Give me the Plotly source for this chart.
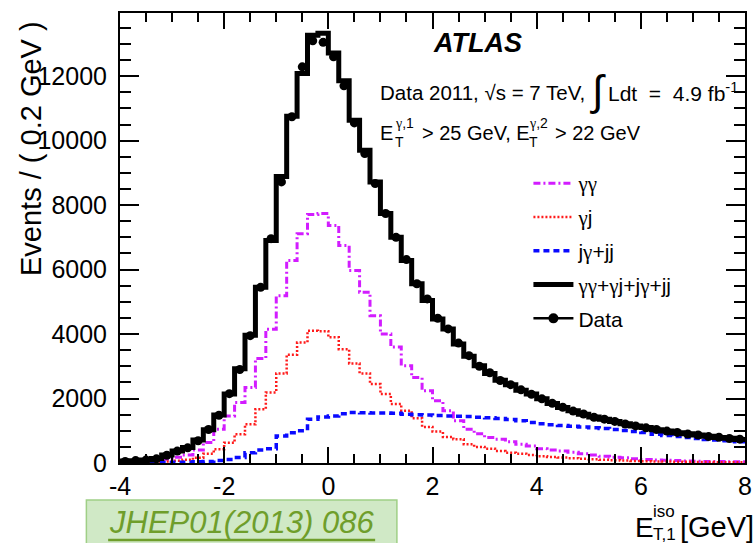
import numpy as np
import plotly.graph_objects as go

# ---------------- data (Events / 0.2 GeV), 60 bins from -4 to 8 GeV ----------------
bin_low = -4.0
bin_width = 0.2

data_counts = [50, 75, 90, 130, 240, 370, 470, 690, 1040, 1480,
               2150, 2900, 3950, 5450, 6960, 8720, 10740, 12290, 13100, 13050,
               12600, 11700, 10550, 9600, 8670, 7740, 7000, 6310, 5560, 5090,
               4490, 4160, 3720, 3330, 3000, 2800, 2560, 2430, 2270, 2130,
               1990, 1850, 1730, 1610, 1520, 1420, 1360, 1290, 1210, 1150,
               1090, 1040, 990, 950, 900, 870, 820, 800, 760, 740]

total_fit = [60, 70, 95, 140, 250, 375, 480, 710, 1030, 1490,
             2140, 2920, 3960, 5450, 6900, 8890, 10760, 12080, 13270, 13330,
             12720, 11860, 10630, 9700, 8720, 7740, 7000, 6280, 5560, 5040,
             4470, 4160, 3690, 3310, 3020, 2780, 2570, 2430, 2260, 2140,
             1990, 1845, 1720, 1620, 1510, 1430, 1360, 1285, 1220, 1150,
             1100, 1035, 995, 940, 910, 870, 830, 790, 770, 730]

gg_comp = [25, 35, 50, 75, 120, 180, 250, 400, 635, 1050,
           1460, 1880, 2340, 3240, 4150, 5190, 6280, 7110, 7710, 7740,
           7370, 6750, 5970, 5300, 4570, 4000, 3600, 3020, 2650, 2240,
           1930, 1620, 1310, 1050, 910, 790, 740, 660, 580, 530,
           440, 400, 370, 330, 290, 250, 210, 180, 160, 130,
           110, 95, 85, 75, 65, 55, 50, 45, 40, 40]

gj_comp = [5, 10, 15, 30, 45, 70, 100, 165, 290, 425,
           630, 890, 1200, 1670, 2190, 2780, 3360, 3740, 4100, 4090,
           3900, 3530, 3090, 2780, 2450, 2140, 1830, 1620, 1390, 1120,
           975, 810, 735, 580, 500, 445, 375, 320, 290, 250,
           210, 190, 170, 150, 130, 115, 100, 85, 75, 65,
           55, 50, 45, 40, 35, 30, 28, 25, 22, 20]

jj_comp = [5, 5, 8, 10, 15, 20, 25, 40, 45, 80,
           110, 170, 320, 400, 440, 840, 940, 1000, 1360, 1430,
           1460, 1530, 1565, 1560, 1550, 1550, 1545, 1510, 1500, 1490,
           1470, 1460, 1450, 1440, 1420, 1400, 1380, 1350, 1310, 1260,
           1220, 1190, 1160, 1140, 1120, 1090, 1070, 1040, 1010, 980,
           950, 890, 850, 820, 790, 760, 730, 710, 690, 660]

x_tickvals = [-4, -2, 0, 2, 4, 6, 8]
x_ticktext = ["-4", "-2", "0", "2", "4", "6", "8"]
y_tickvals = [0, 2000, 4000, 6000, 8000, 10000, 12000]
y_ticktext = ["0", "2000", "4000", "6000", "8000", "10000", "12000"]

# ---------------- geometry ----------------
W, H = 756, 543
L, R, T, B = 120, 4, 13, 80
PW, PH = W - L - R, H - T - B

def px(xp):
    return (xp - L) / PW

def py(yp):
    return (H - B - yp) / PH

n = len(total_fit)
edges = bin_low + bin_width * np.arange(n + 1)
centers = bin_low + bin_width * (np.arange(n) + 0.5)

def step(vals):
    return list(vals) + [vals[-1]]

FONT = "Liberation Sans"
G = "<span style='font-family:Liberation Serif'>γ</span>"

fig = go.Figure()

fig.add_trace(go.Scatter(x=edges, y=step(gg_comp), mode="lines", line_shape="hv",
                         name=G + G, legendgroup="a",
                         line=dict(color="#d21cff", width=3, dash="7px,3px,2px,3px")))
fig.add_trace(go.Scatter(x=edges, y=step(gj_comp), mode="lines", line_shape="hv",
                         name=G + "j", legendgroup="b",
                         line=dict(color="#ff1a1a", width=2.5, dash="2px,2px")))
fig.add_trace(go.Scatter(x=edges, y=step(jj_comp), mode="lines", line_shape="hv",
                         name="j" + G + "+jj", legendgroup="c",
                         line=dict(color="#0a0aff", width=3.5, dash="6px,4px")))
fig.add_trace(go.Scatter(x=edges, y=step(total_fit), mode="lines", line_shape="hv",
                         name=G + G + "+" + G + "j+j" + G + "+jj", legendgroup="d",
                         line=dict(color="black", width=5)))
fig.add_trace(go.Scatter(x=centers, y=data_counts, mode="markers", showlegend=False,
                         marker=dict(color="black", size=9),
                         error_y=dict(type="data", array=np.sqrt(data_counts),
                                      color="black", thickness=2, width=0)))
# legend proxy for data (no coordinates)
fig.add_trace(go.Scatter(x=[None], y=[None], mode="lines+markers", name="Data",
                         legendgroup="e",
                         line=dict(color="black", width=2.5),
                         marker=dict(color="black", size=10)))

axis_common = dict(showline=True, linewidth=2, linecolor="black", mirror="ticks",
                   ticks="inside", tickwidth=2, tickcolor="black",
                   showgrid=False, zeroline=False, ticklabeloverflow="allow",
                   tickfont=dict(family=FONT, size=25, color="black"))

fig.update_xaxes(range=[-4, 8], tickvals=x_tickvals, ticktext=x_ticktext, ticklen=16,
                 minor=dict(dtick=0.5, ticklen=9, tickwidth=2, tickcolor="black",
                            ticks="inside", showgrid=False),
                 ticklabelstandoff=0, **axis_common)
fig.update_yaxes(range=[0, 13960], tickvals=y_tickvals, ticktext=y_ticktext, ticklen=19,
                 minor=dict(dtick=500, ticklen=11, tickwidth=2, tickcolor="black",
                            ticks="inside", showgrid=False),
                 ticklabelstandoff=6, **axis_common)

annotations = []

def ann(text, xp, yp, size, xanchor="left", yanchor="middle", color="black", angle=0):
    annotations.append(dict(text=text, x=px(xp), y=py(yp), xref="paper", yref="paper",
                            xanchor=xanchor, yanchor=yanchor, showarrow=False,
                            textangle=angle, borderpad=0,
                            font=dict(family=FONT, size=size, color=color)))

# y title
ann("Events / ( 0.2 GeV )", 30, 148, 29, xanchor="center", yanchor="middle", angle=-90)
# x title
ann("E", 640, 527, 28)
ann("iso", 658, 512, 17)
ann("T,1", 658, 534, 17)
ann("[GeV]", 685, 527, 29)
# ATLAS label
ann("<b><i>ATLAS</i></b>", 481, 43, 27, xanchor="center")
ann("Data 2011, √s = 7 TeV,", 382, 92, 20.5)
ann("∫", 594, 90, 42)
ann("Ldt&nbsp; =&nbsp; 4.9 fb<sup>-1</sup>", 612, 92, 21)
# cuts line
ann("E", 382, 133, 20)
ann(G + ",1", 397, 123, 14)
ann("T", 397, 142, 14)
ann("> 25 GeV, E", 424, 133, 20)
ann(G + ",2", 533, 123, 14)
ann("T", 533, 142, 14)
ann("> 22 GeV", 559, 133, 20)
# journal reference
ann("<i>JHEP01(2013) 086</i>", 243, 522, 31, xanchor="center", color="#6f9e2b")

shapes = [
    dict(type="rect", xref="paper", yref="paper", x0=px(86), x1=px(400), y0=py(560), y1=py(500),
         fillcolor="#d0e9c6", line=dict(color="#9fcf86", width=1.5), layer="below"),
    dict(type="line", xref="paper", yref="paper", x0=px(108), x1=px(378), y0=py(540), y1=py(540),
         line=dict(color="#6f9e2b", width=2.5)),
]

fig.update_layout(
    width=W, height=H,
    margin=dict(l=L, r=R, t=T, b=B, pad=0),
    paper_bgcolor="white", plot_bgcolor="white",
    annotations=annotations, shapes=shapes,
    legend=dict(x=px(533), y=py(163), xanchor="left", yanchor="top",
                bgcolor="rgba(0,0,0,0)", font=dict(family=FONT, size=21, color="black"),
                tracegroupgap=3.5, itemwidth=40),
    showlegend=True,
)

fig.write_html("out.html")
